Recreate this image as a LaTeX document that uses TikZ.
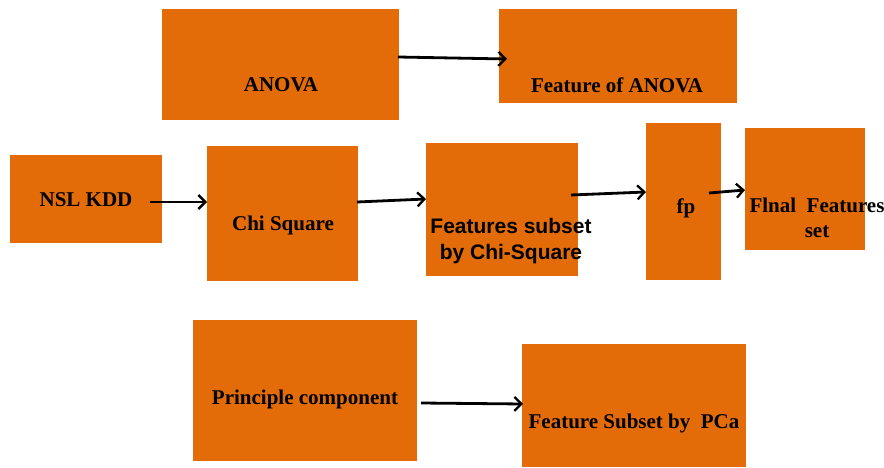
\documentclass[tikz,border=0pt]{standalone}
\usepackage{fontspec}
\setmainfont{Liberation Serif}
\newfontfamily\sansbold{Liberation Sans}
\usetikzlibrary{arrows.meta}
\definecolor{boxorange}{HTML}{E36C09}
\tikzset{
  box/.style={fill=boxorange, draw=none, inner sep=0pt, outer sep=0pt},
  lbl/.style={anchor=base, inner sep=0pt, text=black,
              font=\bfseries\fontsize{21}{26}\selectfont},
  slbl/.style={anchor=base, inner sep=0pt, text=black, align=center,
               font=\sansbold\bfseries\fontsize{21}{26}\selectfont},
  arr/.style={line width=2.8pt, -{Straight Barb[length=7pt,width=14pt,line width=2.3pt]}}
}
\begin{document}
\begin{tikzpicture}[x=1pt,y=-1pt]
\useasboundingbox (0,0) rectangle (884,468);

% boxes
\node[box, minimum width=237pt, minimum height=111pt] (anova)  at (280.5,64.5) {};
\node[box, minimum width=238pt, minimum height=94pt]  (fanova) at (618,56) {};
\node[box, minimum width=152pt, minimum height=88pt]  (nsl)    at (86,199) {};
\node[box, minimum width=151pt, minimum height=135pt] (chi)    at (282.5,213.5) {};
\node[box, minimum width=152pt, minimum height=133pt] (fsub)   at (502,209.5) {};
\node[box, minimum width=75pt,  minimum height=157pt] (fp)     at (683.5,201.5) {};
\node[box, minimum width=120pt, minimum height=122pt] (final)  at (805,189) {};
\node[box, minimum width=224pt, minimum height=141pt] (pc)     at (305,390.5) {};
\node[box, minimum width=224pt, minimum height=123pt] (pca)    at (634,405.5) {};

% labels
\node[lbl] (anovaT)  at (281,92)  {ANOVA};
\node[lbl] (fanovaT) at (617,93)  {Feature of ANOVA};
\node[lbl] (nslT)    at (86,207)  {NSL KDD};
\node[lbl] (chiT)    at (283,230) {Chi Square};
\node[slbl] (fsubT)  at (511,259) {Features subset\\by Chi-Square};
\node[lbl] (fpT)     at (686,214) {fp};
\node[lbl] (finalT)  at (817,212) {Flnal~~Features};
\node[lbl] (finalT2) at (817,237) {set};
\node[lbl] (pcT)     at (305,404) {Principle component};
\node[lbl] (pcaT)    at (634,428) {Feature Subset by~~PCa};

% connectors
\draw[arr] ([shift={(-1,-7.5)}]anova.east) -- ([shift={(8,3)}]fanova.west);
\draw[arr] ([shift={(-12,3)}]nsl.east)     -- ([shift={(0,-11.5)}]chi.west);
\draw[arr] ([shift={(-1,-11.5)}]chi.east)  -- ([shift={(0,-10.5)}]fsub.west);
\draw[arr] ([shift={(-7,-14.5)}]fsub.east) -- ([shift={(0,-9.5)}]fp.west);
\draw[arr] ([shift={(-12,-8.5)}]fp.east)   -- ([shift={(0,1)}]final.west);
\draw[arr] ([shift={(4,12.5)}]pc.east)     -- ([shift={(1,-1.5)}]pca.west);
\end{tikzpicture}
\end{document}
